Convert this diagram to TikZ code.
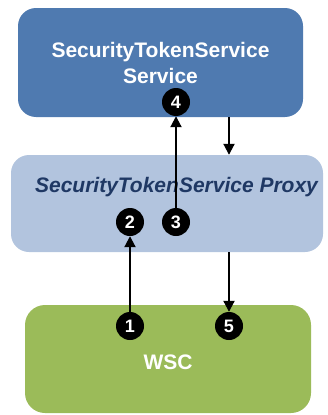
\documentclass[tikz,border=0pt]{standalone}
\usepackage{fontspec}
\setmainfont{Liberation Sans}
\usetikzlibrary{arrows.meta}
\definecolor{stsblue}{RGB}{79,122,176}
\definecolor{proxyblue}{RGB}{178,196,222}
\definecolor{proxytext}{RGB}{31,56,100}
\definecolor{wscgreen}{RGB}{155,187,89}
\tikzset{
  box/.style={draw=none, rounded corners=18pt, inner sep=0pt},
  boxtext/.style={text=white, font=\fontsize{21}{26}\selectfont\bfseries, align=center},
  badge/.style={circle, fill=black, text=white, minimum size=28pt, inner sep=0pt,
    font=\fontsize{18}{18}\selectfont\bfseries},
  flow/.style={line width=2pt, -{Triangle[length=11pt,width=11pt]}}
}
\begin{document}
\begin{tikzpicture}[x=1pt,y=-1pt]
  \useasboundingbox (0,0) rectangle (327,415);
  % the three tiers
  \node[box, fill=stsblue, minimum width=285pt, minimum height=109pt, boxtext]
    (sts) at (160.5,62.5) {SecurityTokenService\\Service};
  \node[box, fill=proxyblue, minimum width=312pt, minimum height=97pt]
    (proxy) at (167,203.5) {};
  \node[text=proxytext, font=\fontsize{21}{26}\selectfont\bfseries\itshape]
    (proxylabel) at (176.5,187) {SecurityTokenService Proxy};
  \node[box, fill=wscgreen, rounded corners=20pt, minimum width=286pt, minimum height=108pt]
    (wsc) at (168,359) {};
  \node[boxtext] (wsclabel) at (168,362) {WSC};
  % numbered steps
  \node[badge] (c1) at (130,326) {1};
  \node[badge] (c2) at (130,222) {2};
  \node[badge] (c3) at (176,222) {3};
  \node[badge] (c4) at (176,102) {4};
  \node[badge] (c5) at (229,326) {5};
  % message flow
  \draw[flow] (c1) -- (c2);
  \draw[flow] (c3) -- (c4);
  \draw[flow] (sts.south -| c5) -- (proxy.north -| c5);
  \draw[flow] (proxy.south -| c5) -- (c5);
\end{tikzpicture}
\end{document}
